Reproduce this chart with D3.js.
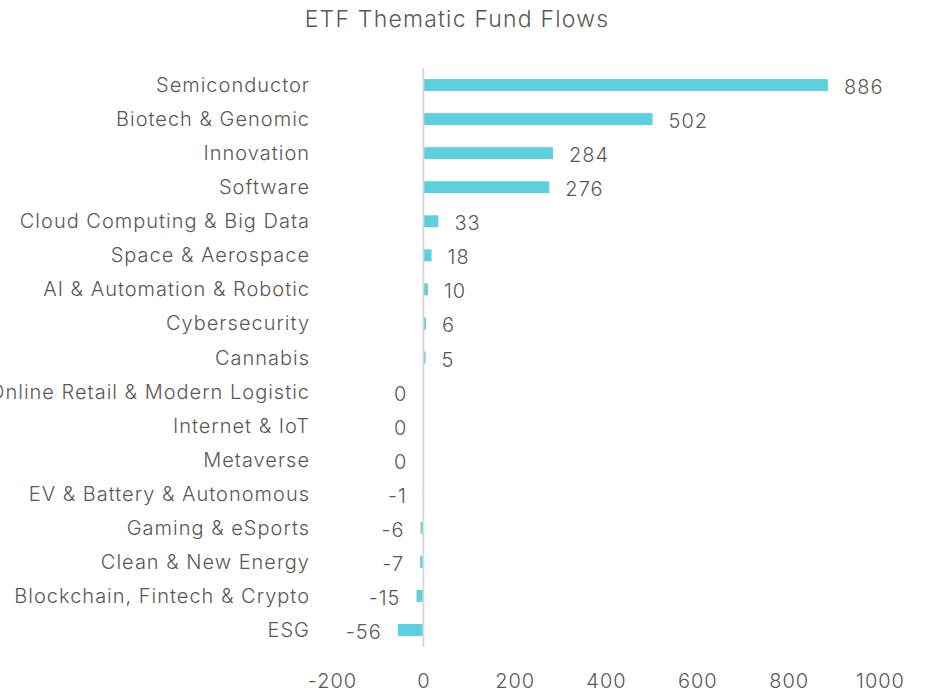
<!DOCTYPE html>
<html>
<head>
<meta charset="utf-8">
<script src="https://cdn.jsdelivr.net/npm/d3@7"></script>
<style>
  body { margin: 0; background: #fff; }
  text { font-family: "Inter", "Open Sans", sans-serif; fill: #595959; font-weight: 300; letter-spacing: 1px; }
</style>
</head>
<body>
<div id="chart"></div>
<script>
// fund flows by theme
const categories = [
  "Semiconductor", "Biotech & Genomic", "Innovation", "Software",
  "Cloud Computing & Big Data", "Space & Aerospace", "AI & Automation & Robotic",
  "Cybersecurity", "Cannabis", "Online Retail & Modern Logistic", "Internet & IoT",
  "Metaverse", "EV & Battery & Autonomous", "Gaming & eSports", "Clean & New Energy",
  "Blockchain, Fintech & Crypto", "ESG"
];
const flows = [886, 502, 284, 276, 33, 18, 10, 6, 5, 0, 0, 0, -1, -6, -7, -15, -56];
const tickValues = [-200, 0, 200, 400, 600, 800, 1000];

const width = 935, height = 697;

const svg = d3.select('#chart').append('svg')
  .attr('width', width)
  .attr('height', height);

const x = d3.scaleLinear().domain([-200, 1000]).range([332, 880]);
const y = d3.scaleBand().domain(categories).range([68, 647]).paddingInner(0.65).paddingOuter(0.325);

svg.append('text')
  .attr('x', 457)
  .attr('y', 27)
  .attr('text-anchor', 'middle')
  .style('font-size', '23px')
  .style('letter-spacing', '1.2px')
  .text('ETF Thematic Fund Flows');

// bars
svg.selectAll('.bar')
  .data(flows)
  .enter().append('rect')
  .attr('class', 'bar')
  .attr('x', d => x(Math.min(0, d)))
  .attr('y', (d, i) => y(categories[i]))
  .attr('width', d => Math.abs(x(d) - x(0)))
  .attr('height', y.bandwidth())
  .style('fill', '#5dd0e0');

// zero line
svg.append('line')
  .attr('x1', x(0)).attr('x2', x(0))
  .attr('y1', 68).attr('y2', 647)
  .style('stroke', '#d9d9d9')
  .style('stroke-width', 2);

// value labels
svg.selectAll('.val')
  .data(flows)
  .enter().append('text')
  .attr('class', 'val')
  .attr('x', d => d > 0 ? x(d) + 16 : x(Math.min(0, d)) - 16)
  .attr('y', (d, i) => y(categories[i]) + y.bandwidth() / 2 + 2)
  .attr('dy', '0.35em')
  .attr('text-anchor', d => d > 0 ? 'start' : 'end')
  .style('font-size', '20px')
  .text(d => d);

// category axis
const yAxis = svg.append('g')
  .attr('transform', 'translate(318,0)')
  .call(d3.axisLeft(y).tickSize(0).tickPadding(8));
yAxis.select('.domain').remove();
yAxis.selectAll('text')
  .attr('dy', '0.35em')
  .style('font-size', '20px')
  .style('fill', '#595959')
  .style('font-family', '"Inter", "Open Sans", sans-serif');

// value axis
const xAxis = svg.append('g')
  .attr('transform', 'translate(0,670)')
  .call(d3.axisBottom(x).tickValues(tickValues).tickFormat(d => d).tickSize(0).tickPadding(0));
xAxis.select('.domain').remove();
xAxis.selectAll('text')
  .attr('dy', '0.35em')
  .attr('y', 11)
  .style('font-size', '20px')
  .style('fill', '#595959')
  .style('font-family', '"Inter", "Open Sans", sans-serif');
</script>
</body>
</html>
